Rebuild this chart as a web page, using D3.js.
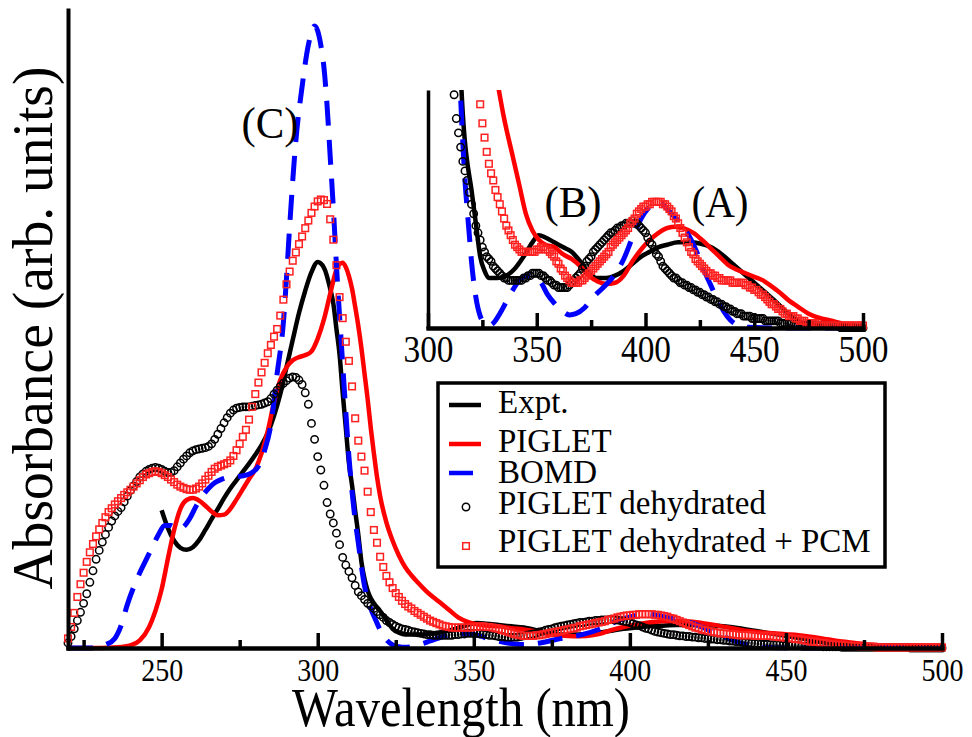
<!DOCTYPE html>
<html>
<head>
<meta charset="utf-8">
<script src="https://cdnjs.cloudflare.com/ajax/libs/d3/7.8.5/d3.min.js"></script>
<style>
  body { margin: 0; background: #fff; }
  svg { display: block; font-family: "Liberation Serif", "Times New Roman", serif; }
</style>
</head>
<body>
<svg id="chart" width="972" height="737"></svg>
<script>
// ---- data (absorbance, arb. units) ----

// Expt. (solid black)
var exptWl = [250, 252, 254, 256, 258, 260, 262, 264, 266, 268, 270, 272, 274, 276, 278, 280, 282, 284, 286, 288,
  290, 292, 294, 296, 298, 300, 302, 304, 305, 306, 307, 308, 309, 310, 311, 312, 313, 314, 315, 316, 317, 318,
  320, 322, 324, 326, 328, 332, 336, 340, 344, 348, 351, 354, 358, 362, 366, 370, 374, 378, 382, 386, 390, 394,
  398, 402, 406, 410, 415, 420, 425, 430, 435, 440, 445, 450, 455, 460, 465, 470, 475, 480, 490, 500];
var exptAbs = [0.216, 0.188, 0.168, 0.157, 0.154, 0.158, 0.169, 0.185, 0.202, 0.218, 0.235, 0.250, 0.263, 0.276, 0.289, 0.303, 0.318, 0.337, 0.364, 0.398,
  0.440, 0.483, 0.525, 0.560, 0.589, 0.605, 0.596, 0.563, 0.540, 0.500, 0.460, 0.400, 0.345, 0.290, 0.255, 0.215, 0.178, 0.135, 0.108, 0.090, 0.078, 0.070,
  0.058, 0.044, 0.030, 0.024, 0.021, 0.021, 0.022, 0.025, 0.030, 0.036, 0.039, 0.038, 0.036, 0.034, 0.032, 0.028, 0.023, 0.021, 0.021, 0.022, 0.024, 0.027,
  0.030, 0.032, 0.034, 0.035, 0.036, 0.036, 0.0355, 0.034, 0.031, 0.027, 0.023, 0.019, 0.015, 0.011, 0.0065, 0.003, 0.0015, 0.0008, 0.0002, 0];

// PIGLET (solid red)
var pigletWl = [220, 230, 236, 240, 243, 246, 248, 250, 252, 254, 256, 258, 260, 262, 264, 266, 268, 270, 272, 274,
  276, 278, 280, 282, 284, 286, 288, 290, 292, 294, 296, 298, 300, 302, 304, 306, 307, 308, 309, 310, 311, 312,
  313, 314, 315, 316, 317, 318, 319, 320, 322, 324, 326, 328, 330, 332, 335, 339, 342, 345, 348, 351, 354, 358,
  362, 366, 370, 374, 378, 382, 386, 390, 394, 398, 402, 406, 410, 414, 418, 422, 426, 430, 434, 438, 442, 446,
  450, 454, 458, 462, 466, 470, 475, 480, 485, 490, 495, 500];
var pigletAbs = [0, 0, 0.001, 0.004, 0.012, 0.033, 0.058, 0.092, 0.140, 0.185, 0.218, 0.232, 0.235, 0.231, 0.223, 0.214, 0.208, 0.209, 0.218, 0.233,
  0.249, 0.265, 0.280, 0.305, 0.340, 0.385, 0.420, 0.440, 0.451, 0.456, 0.459, 0.465, 0.485, 0.515, 0.555, 0.593, 0.602, 0.604, 0.597, 0.583, 0.563, 0.535,
  0.505, 0.470, 0.430, 0.390, 0.345, 0.305, 0.268, 0.238, 0.197, 0.168, 0.145, 0.127, 0.114, 0.103, 0.088, 0.072, 0.060, 0.048, 0.041, 0.037, 0.035, 0.034,
  0.031, 0.029, 0.026, 0.022, 0.0195, 0.0185, 0.019, 0.022, 0.028, 0.033, 0.037, 0.040, 0.042, 0.0425, 0.0418, 0.040, 0.037, 0.0335, 0.030, 0.0265, 0.0245, 0.023,
  0.0215, 0.020, 0.0175, 0.0147, 0.0115, 0.009, 0.006, 0.0042, 0.0032, 0.002, 0.001, 0.0005];

// BOMD (dashed blue)
var bomdWl = [220, 228, 232, 235, 237, 239, 241, 243, 245, 247, 249, 251, 253, 255, 257, 259, 261, 263, 265, 267,
  269, 271, 273, 275, 277, 279, 281, 283, 285, 287, 289, 290, 291, 293, 295, 297, 299, 301, 302, 303, 304, 305,
  306, 307, 308, 309, 310, 311, 312, 313, 314, 315, 316, 317, 318, 319, 320, 322, 324, 326, 328, 330, 333, 336,
  339, 342, 346, 349, 352, 355, 358, 362, 365, 368, 372, 376, 380, 385, 390, 394, 398, 402, 406, 409, 413, 417,
  421, 424, 427, 430, 433, 436, 439, 443, 447, 460, 500];
var bomdAbs = [0, 0, 0.005, 0.015, 0.035, 0.068, 0.095, 0.118, 0.138, 0.158, 0.178, 0.192, 0.192, 0.186, 0.190, 0.203, 0.222, 0.238, 0.250, 0.259,
  0.264, 0.267, 0.268, 0.269, 0.271, 0.275, 0.285, 0.310, 0.350, 0.430, 0.510, 0.580, 0.660, 0.795, 0.880, 0.945, 0.975, 0.945, 0.910, 0.850, 0.770, 0.690,
  0.600, 0.520, 0.445, 0.370, 0.300, 0.245, 0.200, 0.165, 0.128, 0.097, 0.078, 0.062, 0.050, 0.039, 0.028, 0.013, 0.005, 0.002, 0.001, 0.002, 0.006, 0.011,
  0.016, 0.020, 0.022, 0.0215, 0.019, 0.014, 0.0105, 0.007, 0.0055, 0.006, 0.0085, 0.013, 0.0165, 0.0214, 0.029, 0.038, 0.046, 0.051, 0.053, 0.051, 0.047, 0.043,
  0.037, 0.031, 0.024, 0.018, 0.012, 0.007, 0.0034, 0.001, 0.0003, 0, 0];

// PIGLET dehydrated (open black circles), one value per nm from 220 to 500
var dehydWl = d3.range(220, 501);
var dehydAbs = [
  0.008, 0.018, 0.030, 0.043, 0.056, 0.070, 0.085, 0.103, 0.121, 0.139,
  0.153, 0.166, 0.178, 0.189, 0.199, 0.207, 0.214, 0.220, 0.229, 0.238,
  0.247, 0.254, 0.261, 0.268, 0.273, 0.277, 0.280, 0.282, 0.283, 0.282,
  0.280, 0.277, 0.275, 0.275, 0.278, 0.284, 0.290, 0.296, 0.301, 0.306,
  0.309, 0.311, 0.312, 0.313, 0.314, 0.316, 0.320, 0.327, 0.335, 0.344,
  0.353, 0.361, 0.368, 0.373, 0.376, 0.377, 0.378, 0.378, 0.378, 0.379,
  0.380, 0.381, 0.382, 0.384, 0.386, 0.391, 0.398, 0.404, 0.410, 0.415,
  0.419, 0.423, 0.425, 0.424, 0.420, 0.413, 0.400, 0.382, 0.352, 0.327,
  0.300, 0.279, 0.255, 0.228, 0.210, 0.196, 0.180, 0.162, 0.142, 0.130,
  0.120, 0.110, 0.098, 0.088, 0.082, 0.076, 0.070, 0.066, 0.062, 0.057,
  0.052, 0.048, 0.043, 0.040, 0.037, 0.034, 0.032, 0.030, 0.029, 0.028,
  0.026, 0.025, 0.024, 0.023, 0.022, 0.021, 0.021, 0.020, 0.020, 0.020,
  0.020, 0.020, 0.020, 0.020, 0.021, 0.021, 0.022, 0.022, 0.023, 0.023,
  0.023, 0.023, 0.022, 0.022, 0.021, 0.020, 0.020, 0.019, 0.018, 0.018,
  0.017, 0.017, 0.017, 0.017, 0.017, 0.018, 0.019, 0.020, 0.021, 0.022,
  0.023, 0.025, 0.026, 0.028, 0.029, 0.030, 0.032, 0.033, 0.034, 0.035,
  0.036, 0.037, 0.038, 0.039, 0.040, 0.040, 0.041, 0.042, 0.042, 0.043,
  0.043, 0.044, 0.044, 0.044, 0.045, 0.044, 0.044, 0.043, 0.042, 0.041,
  0.040, 0.038, 0.036, 0.035, 0.033, 0.031, 0.030, 0.028, 0.026, 0.025,
  0.024, 0.023, 0.022, 0.021, 0.021, 0.020, 0.019, 0.019, 0.018, 0.018,
  0.017, 0.017, 0.016, 0.016, 0.015, 0.015, 0.014, 0.014, 0.013, 0.013,
  0.012, 0.012, 0.011, 0.011, 0.010, 0.010, 0.009, 0.009, 0.008, 0.008,
  0.007, 0.007, 0.006, 0.006, 0.006, 0.005, 0.005, 0.005, 0.005, 0.004,
  0.004, 0.004, 0.004, 0.004, 0.004, 0.003, 0.003, 0.003, 0.003, 0.003,
  0.003, 0.003, 0.002, 0.002, 0.002, 0.002, 0.002, 0.002, 0.001, 0.001,
  0.001, 0.001, 0.001, 0.001, 0.001, 0.001, 0.001, 0.001, 0.001, 0.001,
  0.001, 0.001, 0.001, 0.001, 0.001, 0.001, 0.001, 0.001, 0.001, 0.001,
  0.000, 0.000, 0.000, 0.000, 0.000, 0.000, 0.000, 0.000, 0.000, 0.000,
  0.000];

// PIGLET dehydrated + PCM (open red squares), one value per nm from 220 to 500
var pcmWl = d3.range(220, 501);
var pcmAbs = [
  0.015, 0.033, 0.055, 0.080, 0.100, 0.118, 0.135, 0.150, 0.163, 0.175,
  0.186, 0.196, 0.205, 0.213, 0.219, 0.225, 0.230, 0.235, 0.240, 0.244,
  0.248, 0.253, 0.258, 0.263, 0.268, 0.272, 0.274, 0.276, 0.277, 0.276,
  0.274, 0.271, 0.268, 0.264, 0.260, 0.256, 0.253, 0.251, 0.249, 0.248,
  0.248, 0.250, 0.253, 0.258, 0.264, 0.270, 0.276, 0.281, 0.284, 0.286,
  0.288, 0.290, 0.294, 0.301, 0.310, 0.320, 0.331, 0.342, 0.358, 0.378,
  0.398, 0.416, 0.432, 0.447, 0.462, 0.475, 0.488, 0.500, 0.521, 0.546,
  0.570, 0.590, 0.607, 0.620, 0.633, 0.645, 0.658, 0.670, 0.682, 0.692,
  0.700, 0.703, 0.702, 0.696, 0.672, 0.640, 0.600, 0.550, 0.517, 0.480,
  0.450, 0.410, 0.360, 0.325, 0.300, 0.278, 0.245, 0.213, 0.185, 0.165,
  0.143, 0.127, 0.113, 0.103, 0.094, 0.086, 0.080, 0.074, 0.069, 0.065,
  0.062, 0.058, 0.055, 0.052, 0.049, 0.046, 0.043, 0.041, 0.039, 0.037,
  0.035, 0.034, 0.033, 0.032, 0.032, 0.032, 0.032, 0.032, 0.032, 0.032,
  0.033, 0.033, 0.034, 0.034, 0.033, 0.033, 0.032, 0.031, 0.030, 0.028,
  0.027, 0.025, 0.024, 0.022, 0.021, 0.020, 0.019, 0.019, 0.019, 0.019,
  0.020, 0.020, 0.021, 0.022, 0.023, 0.024, 0.025, 0.026, 0.027, 0.028,
  0.029, 0.030, 0.031, 0.032, 0.034, 0.035, 0.036, 0.037, 0.038, 0.039,
  0.040, 0.041, 0.042, 0.044, 0.045, 0.046, 0.048, 0.049, 0.050, 0.051,
  0.051, 0.052, 0.052, 0.053, 0.053, 0.053, 0.053, 0.053, 0.052, 0.052,
  0.051, 0.050, 0.049, 0.047, 0.046, 0.044, 0.042, 0.040, 0.038, 0.036,
  0.034, 0.032, 0.031, 0.029, 0.028, 0.027, 0.026, 0.025, 0.024, 0.023,
  0.023, 0.022, 0.022, 0.021, 0.021, 0.020, 0.020, 0.020, 0.020, 0.020,
  0.019, 0.019, 0.019, 0.019, 0.019, 0.019, 0.018, 0.018, 0.017, 0.017,
  0.016, 0.016, 0.015, 0.014, 0.014, 0.013, 0.012, 0.011, 0.010, 0.010,
  0.009, 0.008, 0.008, 0.007, 0.006, 0.006, 0.005, 0.005, 0.005, 0.004,
  0.004, 0.003, 0.003, 0.003, 0.002, 0.002, 0.002, 0.002, 0.002, 0.001,
  0.001, 0.001, 0.001, 0.001, 0.001, 0.001, 0.001, 0.001, 0.001, 0.001,
  0.001, 0.001, 0.001, 0.001, 0.001, 0.001, 0.001, 0.001, 0.001, 0.001,
  0.001];

// tick labels and legend
var mainMajor = [250, 300, 350, 400, 450, 500];
var mainMinor = [225, 275, 325, 375, 425, 475];
var insetMajor = [300, 350, 400, 450, 500];
var insetMinor = [325, 375, 425, 475];
var legendNames = ["Expt.", "PIGLET", "BOMD", "PIGLET dehydrated", "PIGLET dehydrated + PCM"];
var peakLabels = ["(A)", "(B)", "(C)"];

// ---- drawing ----
var svg = d3.select("#chart");
var serif = '"Liberation Serif", "Times New Roman", serif';

var zip = function (wl, abs) {
  return wl.map(function (w, i) { return [w, abs[i]]; });
};
var expt = zip(exptWl, exptAbs);
var piglet = zip(pigletWl, pigletAbs);
var bomd = zip(bomdWl, bomdAbs);
var dehyd = zip(dehydWl, dehydAbs);
var pcm = zip(pcmWl, pcmAbs);

//draws all five series into a group, with a given pair of scales
var drawSeries = function (g, xs, ys) {
  var line = d3.line()
    .x(function (d) { return xs(d[0]); })
    .y(function (d) { return ys(d[1]); })
    .curve(d3.curveMonotoneX);

  g.append("path").datum(expt)
    .attr("d", line).attr("fill", "none")
    .attr("stroke", "#000").attr("stroke-width", 4.5);

  g.append("path").datum(piglet)
    .attr("d", line).attr("fill", "none")
    .attr("stroke", "#ff0000").attr("stroke-width", 4.5);

  g.append("path").datum(bomd)
    .attr("d", line).attr("fill", "none")
    .attr("stroke", "#0000ff").attr("stroke-width", 5)
    .attr("stroke-dasharray", "25,14");

  g.append("g").selectAll("circle")
    .data(dehyd)
    .enter()
    .append("circle")
    .attr("cx", function (d) { return xs(d[0]); })
    .attr("cy", function (d) { return ys(d[1]); })
    .attr("r", 3.7)
    .attr("fill", "none")
    .attr("stroke", "#000")
    .attr("stroke-width", 1.5);

  g.append("g").selectAll("rect")
    .data(pcm)
    .enter()
    .append("rect")
    .attr("x", function (d) { return xs(d[0]) - 3.3; })
    .attr("y", function (d) { return ys(d[1]) - 3.3; })
    .attr("width", 6.6)
    .attr("height", 6.6)
    .attr("fill", "none")
    .attr("stroke", "#ff2020")
    .attr("stroke-width", 1.5);
};

//bottom axis with long major and short minor ticks pointing inward
var drawBottomAxis = function (yPos, xs, major, minor, fontSize, textLen, labelY) {
  var gMinor = svg.append("g").attr("transform", "translate(0," + yPos + ")")
    .call(d3.axisBottom(xs).tickValues(minor).tickSize(-8).tickSizeOuter(0));
  gMinor.selectAll("text").remove();
  var gMajor = svg.append("g").attr("transform", "translate(0," + yPos + ")")
    .call(d3.axisBottom(xs).tickValues(major).tickSize(-15).tickSizeOuter(0).tickFormat(d3.format("d")));
  [gMinor, gMajor].forEach(function (g) {
    g.attr("font-family", serif);
    g.selectAll("path.domain").attr("stroke", "#000").attr("stroke-width", 4)
      .attr("stroke-linecap", "square");
    g.selectAll("line").attr("stroke", "#000").attr("stroke-width", 3.5);
  });
  gMajor.selectAll("text")
    .attr("y", labelY)
    .attr("dy", null)
    .attr("fill", "#000")
    .attr("font-family", serif)
    .attr("font-size", fontSize)
    .attr("textLength", textLen)
    .attr("lengthAdjust", "spacingAndGlyphs");
};

// main plot
var x = d3.scaleLinear().domain([220, 500]).range([68, 942]);
var y = d3.scaleLinear().domain([0, 1]).range([648, 10]);

drawSeries(svg.append("g"), x, y);
drawBottomAxis(648, x, mainMajor, mainMinor, 32, 42, 33);

svg.append("g").attr("transform", "translate(68,0)")
  .call(d3.axisLeft(y).tickValues([]).tickSizeOuter(0))
  .selectAll("path.domain").attr("stroke", "#000").attr("stroke-width", 4)
  .attr("stroke-linecap", "square");

svg.append("text")
  .attr("x", 461).attr("y", 726)
  .attr("text-anchor", "middle")
  .attr("font-family", serif).attr("font-size", 55)
  .attr("textLength", 338).attr("lengthAdjust", "spacingAndGlyphs")
  .text("Wavelength (nm)");

svg.append("text")
  .attr("transform", "translate(52,328) rotate(-90)")
  .attr("text-anchor", "middle")
  .attr("font-family", serif).attr("font-size", 57)
  .attr("textLength", 523).attr("lengthAdjust", "spacingAndGlyphs")
  .text("Absorbance (arb. units)");

// inset
var xi = d3.scaleLinear().domain([300, 500]).range([428, 863]);
var yi = d3.scaleLinear().domain([0, 0.1]).range([328, 90]);

svg.append("clipPath").attr("id", "insetClip")
  .append("rect").attr("x", 428).attr("y", 90).attr("width", 445).attr("height", 242);

drawSeries(svg.append("g").attr("clip-path", "url(#insetClip)"), xi, yi);
drawBottomAxis(328, xi, insetMajor, insetMinor, 37, 50, 34);

svg.append("g").attr("transform", "translate(428,0)")
  .call(d3.axisLeft(yi).tickValues([]).tickSizeOuter(0))
  .selectAll("path.domain").attr("stroke", "#000").attr("stroke-width", 3.5);

// peak labels
var peakPos = [[720, 217], [573, 217], [270, 138]];
peakLabels.forEach(function (t, i) {
  svg.append("text")
    .attr("x", peakPos[i][0]).attr("y", peakPos[i][1])
    .attr("text-anchor", "middle")
    .attr("font-family", serif).attr("font-size", 45)
    .attr("textLength", 57).attr("lengthAdjust", "spacingAndGlyphs")
    .text(t);
});

// legend
var legend = svg.append("g");
legend.append("rect")
  .attr("x", 438).attr("y", 383).attr("width", 447).attr("height", 184)
  .attr("fill", "#fff").attr("stroke", "#000").attr("stroke-width", 3.5);

var rowBase = [413, 452, 483, 514, 552];
legendNames.forEach(function (name, i) {
  legend.append("text")
    .attr("x", 498).attr("y", rowBase[i])
    .attr("font-family", serif).attr("font-size", 33)
    .text(name);
});

var sampleY = function (i) { return rowBase[i] - 8; };
legend.append("line").attr("x1", 449).attr("x2", 481).attr("y1", sampleY(0)).attr("y2", sampleY(0))
  .attr("stroke", "#000").attr("stroke-width", 4.5);
legend.append("line").attr("x1", 449).attr("x2", 481).attr("y1", sampleY(1)).attr("y2", sampleY(1))
  .attr("stroke", "#ff0000").attr("stroke-width", 4.5);
legend.append("line").attr("x1", 449).attr("x2", 473).attr("y1", sampleY(2) - 2).attr("y2", sampleY(2) - 2)
  .attr("stroke", "#0000ff").attr("stroke-width", 4.5);
legend.append("circle").attr("cx", 466).attr("cy", sampleY(3) + 1).attr("r", 3.7)
  .attr("fill", "none").attr("stroke", "#000").attr("stroke-width", 1.5);
legend.append("rect").attr("x", 462.7).attr("y", sampleY(4) - 1.3).attr("width", 6.6).attr("height", 6.6)
  .attr("fill", "none").attr("stroke", "#ff2020").attr("stroke-width", 1.5);
</script>
</body>
</html>
